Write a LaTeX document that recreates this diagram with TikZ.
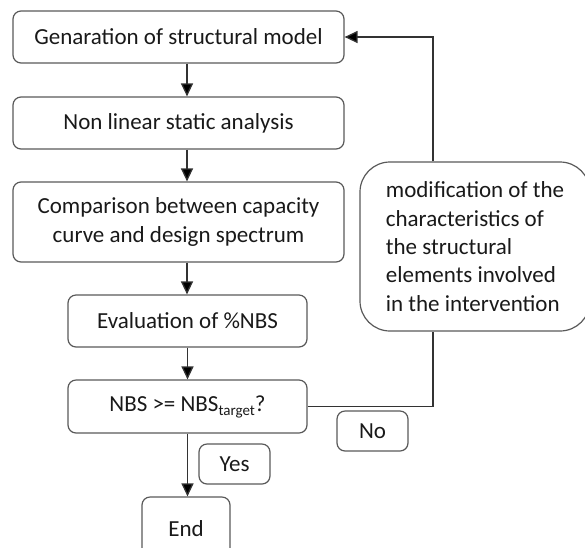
\documentclass[tikz,border=0pt]{standalone}
\usepackage{fontspec}
\setmainfont{Carlito}
\usetikzlibrary{arrows.meta}
\begin{document}
\begin{tikzpicture}[x=1pt,y=-1pt,
  every node/.style={font=\fontsize{23}{28.3}\selectfont, text=black!90},
  box/.style={draw=black!65, line width=1.2pt, rounded corners=8pt, inner sep=0pt, align=center},
  conn/.style={draw=black!80, line width=1.3pt},
  arr/.style={conn, -{Triangle[width=12pt,length=13pt,fill=black]}}]
\useasboundingbox (0,0) rectangle (585,547);

% main chain of steps
\node[box, minimum width=331pt, minimum height=52pt] (gen) at (178.5,37) {Genaration of structural model};
\node[box, minimum width=331pt, minimum height=52pt] (nlsa) at (178.5,123) {Non linear static analysis};
\node[box, minimum width=331pt, minimum height=80pt] (comp) at (178.5,222) {Comparison between capacity\\curve and design spectrum};
\node[box, minimum width=239pt, minimum height=52pt] (eval) at (187.5,321) {Evaluation of \%NBS};
\node[box, minimum width=239pt, minimum height=53pt] (check) at (187.5,406.5)
  {NBS >= NBS\raisebox{-0.35ex}{\fontsize{15}{15}\selectfont target}?};
\node[box, minimum width=88pt, minimum height=63pt] (fin) at (186,528.5) {End};

% branch labels
\node[box, minimum width=71pt, minimum height=40pt] (yes) at (234.5,464) {Yes};
\node[box, minimum width=71pt, minimum height=40pt] (no) at (372.5,431) {No};

% feedback step
\node[box, rounded corners=30pt, minimum width=230pt, minimum height=169pt, align=left]
  (mod) at (475,246.5)
  {modification of the\\characteristics of\\the structural\\elements involved\\in the intervention};

% guide coordinates for the connector lines
\coordinate (spine) at (187,0);
\coordinate (lx) at (433,0);

\draw[arr] (gen.south -| spine) -- (nlsa.north -| spine);
\draw[arr] (nlsa.south -| spine) -- (comp.north -| spine);
\draw[arr] (comp.south -| spine) -- (eval.north -| spine);
\draw[arr] (eval.south) -- (check.north);
\draw[arr] (check.south) -- (check.south |- fin.north);

% loop back on failure
\draw[conn] (check.east) -- (check.east -| lx) -- (mod.south -| lx);
\draw[arr] (mod.north -| lx) |- (gen.east);
\end{tikzpicture}
\end{document}
